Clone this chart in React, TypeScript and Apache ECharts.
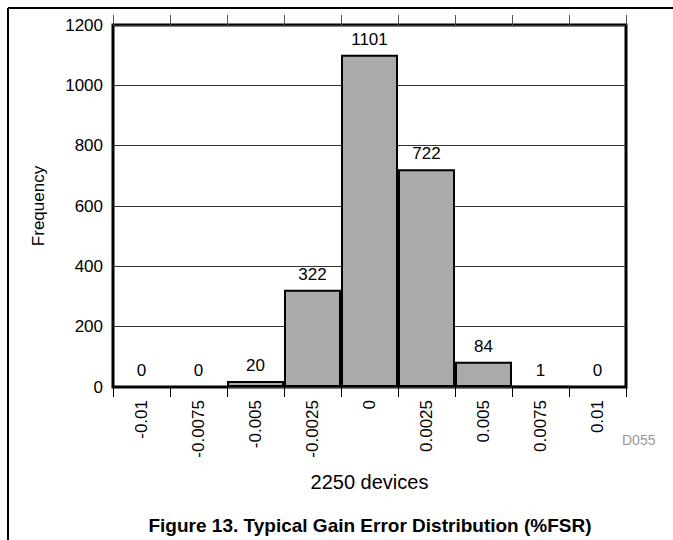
import React, { useEffect, useRef } from "react";
import * as echarts from "echarts";

const categories = ["-0.01", "-0.0075", "-0.005", "-0.0025", "0", "0.0025", "0.005", "0.0075", "0.01"];
const frequency = [0, 0, 20, 322, 1101, 722, 84, 1, 0];
const yMin = 0;
const yMax = 1200;
const yInterval = 200;
const xAxisName = "2250 devices";
const yAxisName = "Frequency";
const figureTitle = "Figure 13. Typical Gain Error Distribution (%FSR)";
const figureCode = "D055";

const FONT = "'Liberation Sans', Arial, Helvetica, sans-serif";

export default function App() {
  const ref = useRef<HTMLDivElement>(null);
  useEffect(() => {
    document.body.style.margin = "0";
    const chart = echarts.init(ref.current!, null, { renderer: "svg" });
    chart.setOption({
      animation: false,
      backgroundColor: "#ffffff",
      textStyle: { fontFamily: FONT },
      grid: {
        left: 113,
        top: 25,
        width: 513,
        height: 362,
        show: true,
        borderColor: "#000",
        borderWidth: 3,
        backgroundColor: "transparent",
        containLabel: false,
      },
      xAxis: [
        {
          type: "category",
          data: categories,
          position: "bottom",
          boundaryGap: true,
          axisLine: { show: false },
          axisTick: { show: true, length: 10, inside: false, lineStyle: { color: "#000", width: 1 } },
          axisLabel: {
            rotate: 90,
            margin: 13,
            fontSize: 17,
            color: "#000",
            fontFamily: FONT,
            interval: 0,
          },
          splitLine: { show: false },
          name: xAxisName,
          nameLocation: "middle",
          nameGap: 85,
          nameTextStyle: { fontSize: 20, color: "#000", fontFamily: FONT },
        },
        {
          type: "category",
          data: categories,
          position: "top",
          boundaryGap: true,
          axisLine: { show: false },
          axisTick: { show: true, length: 10, inside: false, lineStyle: { color: "#555", width: 1 } },
          axisLabel: { show: false },
          splitLine: { show: false },
        },
      ],
      yAxis: {
        type: "value",
        min: yMin,
        max: yMax,
        interval: yInterval,
        axisLine: { show: false },
        axisTick: { show: false },
        axisLabel: {
          fontSize: 17,
          color: "#000",
          margin: 10,
          fontFamily: FONT,
          formatter: (v: number) => String(v),
        },
        splitLine: { show: true, lineStyle: { color: "#333", width: 1 } },
        name: yAxisName,
        nameLocation: "middle",
        nameGap: 66,
        nameTextStyle: { fontSize: 17, color: "#000", fontFamily: FONT },
      },
      series: [
        {
          type: "bar",
          data: frequency,
          xAxisIndex: 0,
          barCategoryGap: "0%",
          itemStyle: { color: "#aaaaaa", borderColor: "#000", borderWidth: 2 },
          label: {
            show: true,
            position: "top",
            distance: 7,
            fontSize: 17,
            color: "#000",
            fontFamily: FONT,
          },
        },
      ],
      graphic: [
        { type: "line", shape: { x1: 8, y1: 8, x2: 673, y2: 8 }, style: { stroke: "#000", lineWidth: 2 } },
        { type: "line", shape: { x1: 8, y1: 8, x2: 8, y2: 540 }, style: { stroke: "#000", lineWidth: 2 } },
        {
          type: "text",
          x: 622,
          y: 440,
          style: { text: figureCode, fontSize: 14, fill: "#999", fontFamily: FONT, verticalAlign: "middle", align: "left" },
        },
        {
          type: "text",
          x: 370,
          y: 525,
          style: {
            text: figureTitle,
            fontSize: 19,
            fontWeight: "bold",
            fill: "#000",
            fontFamily: FONT,
            align: "center",
            verticalAlign: "middle",
          },
        },
      ],
    });
    return () => chart.dispose();
  }, []);
  return <div ref={ref} style={{ width: 673, height: 540, position: "absolute", left: 0, top: 0 }} />;
}
